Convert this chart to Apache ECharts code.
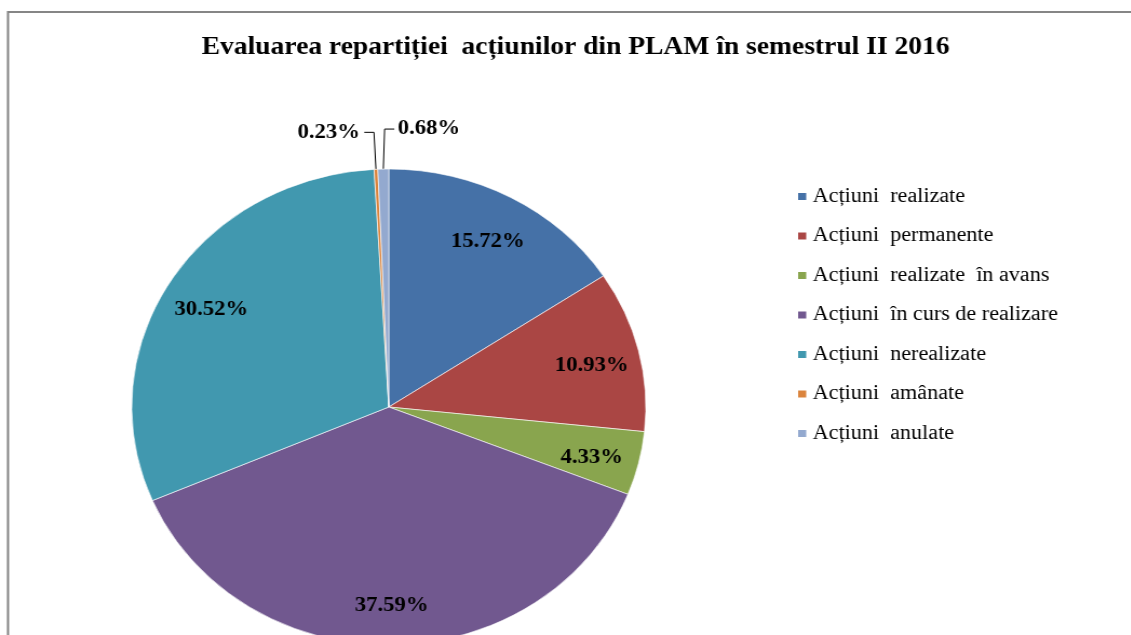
<!DOCTYPE html>
<html>
<head>
<meta charset="utf-8">
<script src="https://cdn.jsdelivr.net/npm/echarts@6/dist/echarts.min.js"></script>
<style>
  html, body { margin: 0; padding: 0; background: #fff; overflow: hidden; }
  /* the original picture is stretched sideways, so is this one */
  #chart { width: 1047px; height: 635px; transform: scaleX(1.08); transform-origin: 0 0; }
</style>
</head>
<body>
<div id="chart"></div>
<script>
// categories and shares (%)
const categories = [
  "Acțiuni  realizate",
  "Acțiuni  permanente",
  "Acțiuni  realizate  în avans",
  "Acțiuni  în curs de realizare",
  "Acțiuni  nerealizate",
  "Acțiuni  amânate",
  "Acțiuni  anulate",
];
const shares = [15.72, 10.93, 4.33, 37.59, 30.52, 0.23, 0.68];
const colors = ["#4571a7", "#aa4644", "#89a54e", "#71588f", "#4198af", "#db843d", "#93a9cf"];
const titleText = "Evaluarea repartiției  acțiunilor din PLAM în semestrul II 2016";

const SMALL = 1; // slices below this get an outside label
const serif = "'Liberation Serif', 'Times New Roman', serif";
const labelText = { fontFamily: serif, fontWeight: "bold", fontSize: 21, color: "#000" };

let chart = echarts.init(document.getElementById("chart"));

let pieData = categories.map((name, i) => ({
  name: name,
  value: shares[i],
  itemStyle: { color: colors[i] },
  label: { show: shares[i] < SMALL },
  labelLine: { show: shares[i] < SMALL },
}));

// transparent ring only used to place the inside labels further out
let ringData = categories.map((name, i) => ({
  name: name,
  value: shares[i],
  label: { show: shares[i] >= SMALL },
}));

let option = {
  animation: false,
  title: {
    text: titleText,
    left: 528,
    top: 29,
    textAlign: "center",
    textStyle: { fontFamily: serif, fontWeight: "bold", fontSize: 25.5, color: "#000" },
  },
  legend: {
    orient: "vertical",
    left: 737,
    top: 186,
    padding: 0,
    itemWidth: 9.5,
    itemHeight: 9,
    itemGap: 18.5,
    icon: "rect",
    data: categories,
    textStyle: { fontFamily: serif, fontSize: 20.5, color: "#000", lineHeight: 21 },
  },
  graphic: [
    {
      type: "polyline",
      shape: { points: [[7.4, 640], [7.4, 12], [1060, 12]] },
      style: { stroke: "#868686", lineWidth: 2, fill: null },
      silent: true,
    },
  ],
  series: [
    {
      type: "pie",
      center: [360, 407],
      radius: [0, 238],
      startAngle: 90,
      clockwise: true,
      avoidLabelOverlap: false,
      silent: true,
      itemStyle: { borderColor: "#fff", borderWidth: 0.6 },
      label: Object.assign({ position: "outside", formatter: "{c}%", distanceToLabelLine: 4 }, labelText),
      labelLine: { length: 37, length2: 9, smooth: false, lineStyle: { color: "#000", width: 1 } },
      labelLayout: function (p) {
        // Acțiuni anulate: label goes to the right of the top
        if (p.dataIndex !== 6 || !p.labelLinePoints) return {};
        let pts = p.labelLinePoints;
        let elbow = pts[1];
        let end = [2 * elbow[0] - pts[2][0] + 2, pts[2][1]];
        return {
          x: end[0] + 3,
          y: end[1] - 3,
          align: "left",
          verticalAlign: "middle",
          labelLinePoints: [pts[0], [elbow[0] + 2, elbow[1] - 3], [end[0], end[1] - 3]],
        };
      },
      data: pieData,
    },
    {
      type: "pie",
      center: [360, 412],
      radius: [143, 238],
      startAngle: 90,
      clockwise: true,
      silent: true,
      itemStyle: { color: "rgba(0,0,0,0)" },
      label: Object.assign({ position: "inside", formatter: "{c}%" }, labelText),
      labelLine: { show: false },
      data: ringData,
    },
  ],
};

chart.setOption(option);
</script>
</body>
</html>
